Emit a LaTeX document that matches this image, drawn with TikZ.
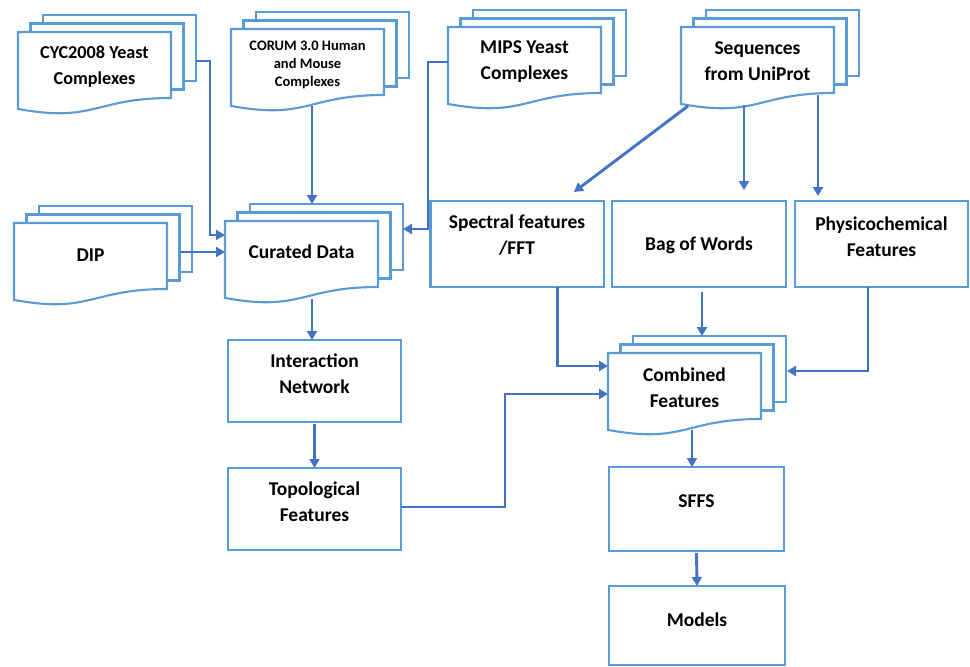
\documentclass[tikz,border=0pt]{standalone}
\usepackage{fontspec}
\setmainfont{Carlito}
\usetikzlibrary{arrows.meta,calc}
\definecolor{boxblue}{HTML}{5B9BD5}
\definecolor{arrblue}{HTML}{4472C4}
\tikzset{
 sheet/.style={draw=boxblue,line width=2.1pt,fill=white},
 anchorbox/.style={inner sep=0pt,outer sep=0pt,minimum width=153pt,minimum height=66pt,anchor=north west},
 rbox/.style={draw=boxblue,line width=2.1pt,fill=white,inner sep=0pt,outer sep=0pt,anchor=north west},
 txt/.style={font=\bfseries\fontsize{19.5}{26}\selectfont,align=center,inner sep=0pt},
 cyctxt/.style={font=\bfseries\fontsize{18.2}{26}\selectfont,align=center,inner sep=0pt},
 smalltxt/.style={font=\bfseries\fontsize{14.5}{18}\selectfont,align=center,inner sep=0pt},
 arr/.style={draw=arrblue,line width=2.9pt,-{Triangle[length=9pt,width=10pt]}},
}
\newcommand\docstack[6]{%
 \begin{scope}[shift={(#2,#3)}]
  \draw[sheet] (25,-17) rectangle (178,49);
  \draw[sheet] (12.5,-8.5) rectangle (165.5,57.5);
  \draw[sheet] (0,0) -- (153,0) -- (153,66) .. controls (76.5,66) and (76.5,91.1) .. (0,76.9) -- cycle;
  \node[anchorbox] (#1) at (0,0) {};
  \node[#5] (#1-t) at (76.5,#4) {#6};
 \end{scope}}
\begin{document}
\begin{tikzpicture}[x=1pt,y=-1pt]
\useasboundingbox[fill=white] (0,0) rectangle (970,667);
% document stacks
\docstack{cyc}{18}{32}{34.5}{cyctxt}{CYC2008 Yeast\\Complexes}
\docstack{corum}{231}{29}{36}{smalltxt}{CORUM 3.0 Human\\and Mouse\\Complexes}
\docstack{mips}{448}{27}{34.5}{txt}{MIPS Yeast\\Complexes}
\docstack{seq}{681}{27}{34.5}{txt}{Sequences\\from UniProt}
\docstack{dip}{14}{223}{32}{txt}{DIP}
\docstack{cur}{225}{221}{31}{txt}{Curated Data}
\docstack{comb}{608}{353}{34.5}{txt}{Combined\\Features}
% rectangles
\node[rbox,minimum width=173.5pt,minimum height=86pt] (spec) at (430.5,201) {};
\node[txt] (spec-t) at (517,235.5) {Spectral features\\/FFT};
\node[rbox,minimum width=174pt,minimum height=86pt] (bag) at (612,201) {};
\node[txt] (bag-t) at (699,245) {Bag of Words};
\node[rbox,minimum width=173pt,minimum height=86pt] (phys) at (795,201) {};
\node[txt] (phys-t) at (881.5,237) {Physicochemical\\Features};
\node[rbox,minimum width=173pt,minimum height=82pt] (inter) at (228,340) {};
\node[txt] (inter-t) at (314.5,374) {Interaction\\Network};
\node[rbox,minimum width=173pt,minimum height=82pt] (topo) at (228,468) {};
\node[txt] (topo-t) at (314.5,501.5) {Topological\\Features};
\node[rbox,minimum width=175pt,minimum height=84pt] (sffs) at (609,467) {};
\node[txt] (sffs-t) at (696.5,501) {SFFS};
\node[rbox,minimum width=176pt,minimum height=79pt] (models) at (609,586) {};
\node[txt] (models-t) at (697,620) {Models};
% connectors
\draw[arr] ([xshift=25pt,yshift=4pt]cyc.east) -- ++(14,0) |- ([yshift=19pt]cur.west);
\draw[arr] ([xshift=4.5pt,yshift=-11pt]corum.south) -- ([xshift=10.5pt,yshift=17pt]cur.north);
\draw[arr] ([yshift=-2pt]mips.west) -- ++(-20,0) |- ([xshift=25pt,yshift=25pt]cur.east);
\draw[arr] ([xshift=13pt,yshift=4pt]dip.east) -- ([yshift=2pt]cur.west);
\draw[arr] ([xshift=10.5pt,yshift=-12pt]cur.south) -- ([xshift=-2.5pt]inter.north);
\draw[arr] ([yshift=-2pt]inter.south) -- (topo.north);
\draw[arr] ([yshift=2pt]topo.east) -- ++(104,0) |- ([yshift=-8pt]comb.west);
\draw[arr] ([xshift=40pt]spec.south) |- ([yshift=20pt]comb.west);
\draw[arr] ([xshift=3pt,yshift=-5pt]bag.south) -- ([xshift=17.5pt,yshift=17pt]comb.north);
\draw[arr] ([xshift=-13.5pt]phys.south) |- ([xshift=26pt,yshift=15pt]comb.east);
\draw[arr] ([xshift=7.5pt,yshift=-11pt]comb.south) -- ([xshift=-4.5pt]sffs.north);
\draw[arr] ([yshift=-2pt]sffs.south) -- (models.north);
\draw[arr] ([xshift=-69.5pt,yshift=-13pt]seq.south) -- ([xshift=56.75pt,yshift=9pt]spec.north);
\draw[arr] ([xshift=-13.5pt,yshift=-12pt]seq.south) -- ([xshift=45pt,yshift=11pt]bag.north);
\draw[arr] ([xshift=60.5pt,yshift=-2pt]seq.south) -- ([xshift=-63.5pt,yshift=5pt]phys.north);
\end{tikzpicture}
\end{document}
